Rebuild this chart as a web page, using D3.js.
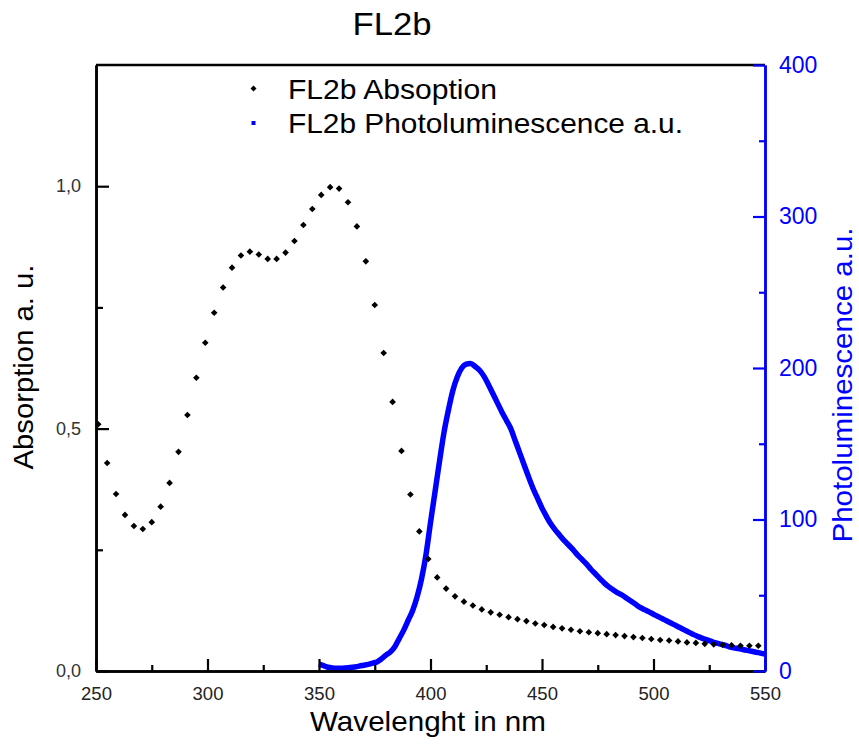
<!DOCTYPE html>
<html>
<head>
<meta charset="utf-8">
<script src="https://cdn.jsdelivr.net/npm/d3@7"></script>
<style>
  html, body { margin: 0; padding: 0; background: #fff; }
  svg { display: block; font-family: "Liberation Sans", Arial, sans-serif; }
</style>
</head>
<body>
<svg id="chart" width="859" height="747"></svg>
<script>
// ---------- data ----------
const absWavelength = d3.range(251, 548, 4); // 251..547 nm, every 4 nm
const absValues = [
  0.509, 0.429, 0.365, 0.322, 0.299, 0.293, 0.307, 0.339, 0.388, 0.452,
  0.528, 0.605, 0.677, 0.739, 0.791, 0.832, 0.857, 0.865, 0.859, 0.850,
  0.850, 0.863, 0.887, 0.920, 0.953, 0.982, 0.998, 0.995, 0.967, 0.917,
  0.845, 0.755, 0.656, 0.555, 0.454, 0.364, 0.288, 0.231, 0.193, 0.170,
  0.154, 0.143, 0.135, 0.127, 0.121, 0.116, 0.111, 0.107, 0.103, 0.098,
  0.095, 0.091, 0.088, 0.085, 0.082, 0.080, 0.078, 0.076, 0.074, 0.072,
  0.070, 0.068, 0.066, 0.064, 0.063, 0.061, 0.059, 0.058, 0.056, 0.055,
  0.054, 0.053, 0.052, 0.052, 0.052
];

const plWavelength = d3.range(350, 551, 2); // 350..550 nm, every 2 nm
const plValues = [
  4.5, 3.5, 2.5, 2.0, 1.8, 1.8, 2.0, 2.3, 2.7, 3.2,
  3.8, 4.4, 5.2, 6.0, 8.0, 10.5, 12.5, 16.0, 21.5, 27.0,
  33.5, 40.0, 49.0, 61.0, 77.0, 98.0, 118.0, 138.0, 157.0, 172.0,
  185.0, 194.0, 200.0, 202.5, 203.0, 201.0, 198.5, 194.5, 189.0, 183.0,
  177.0, 171.0, 165.5, 160.0, 152.0, 144.0, 136.0, 128.0, 120.5, 114.0,
  107.5, 102.0, 97.0, 93.0, 89.5, 86.0, 83.0, 80.0, 76.5, 73.5,
  70.5, 67.0, 64.0, 61.0, 58.0, 55.5, 53.5, 51.5, 50.0, 48.0,
  46.0, 44.0, 42.0, 40.5, 39.0, 37.5, 36.0, 34.5, 33.0, 31.5,
  30.0, 28.5, 27.0, 25.5, 24.0, 22.7, 21.5, 20.5, 19.5, 18.5,
  17.7, 17.0, 16.0, 15.3, 14.8, 14.2, 13.6, 13.0, 12.4, 11.8,
  11.2
];

const xMajorTicks = [250, 300, 350, 400, 450, 500, 550];
const xMinorTicks = [275, 325, 375, 425, 475, 525];
const yLeftMajorTicks = [0, 0.5, 1.0];
const yLeftMinorTicks = [0.25, 0.75];
const yLeftTickLabels = ["0,0", "0,5", "1,0"];
const yRightMajorTicks = [0, 100, 200, 300, 400];
const yRightMinorTicks = [50, 150, 250, 350];

const titleText = "FL2b";
const legendLabels = ["FL2b Absoption", "FL2b Photoluminescence a.u."];
const xTitle = "Wavelenght in nm";
const yLeftTitle = "Absorption a. u.";
const yRightTitle = "Photoluminescence a.u.";

// ---------- layout ----------
const BLUE = "#0000ff";
const L = 96, R = 765, T = 65, B = 671;
const svg = d3.select("#chart");

const x = d3.scaleLinear().domain([250, 550]).range([L, R]);
const yA = d3.scaleLinear().domain([0, 1.25]).range([B, T]);
const yP = d3.scaleLinear().domain([0, 400]).range([B, T]);

// ---------- data marks ----------
const plData = plWavelength.map((w, i) => ({ w, v: plValues[i] }));
const absData = absWavelength.map((w, i) => ({ w, v: absValues[i] }));

svg.append("path")
  .datum(plData)
  .attr("fill", "none")
  .attr("stroke", BLUE)
  .attr("stroke-width", 5.5)
  .attr("stroke-linejoin", "round")
  .attr("d", d3.line().x(d => x(d.w)).y(d => yP(d.v)).curve(d3.curveMonotoneX));

const diamond = d3.symbol().type(d3.symbolSquare).size(22);
svg.append("g").selectAll("path")
  .data(absData)
  .join("path")
  .attr("d", diamond)
  .attr("fill", "#000")
  .attr("transform", d => `translate(${x(d.w)},${yA(d.v)}) rotate(45)`);

// ---------- axes ----------
// top frame
svg.append("line").attr("x1", L).attr("x2", R).attr("y1", T).attr("y2", T)
  .attr("stroke", "#000").attr("stroke-width", 2.5);

function styleAxis(g, color, fontSize, textColor) {
  g.attr("font-size", fontSize).attr("font-family", "'Liberation Sans', Arial, sans-serif");
  g.select(".domain").attr("stroke", color).attr("stroke-width", 2.5);
  g.selectAll(".tick line").attr("stroke", color).attr("stroke-width", 2.2);
  g.selectAll(".tick text").attr("fill", textColor).attr("font-size", fontSize);
}

// bottom axis
const gxMinor = svg.append("g").attr("transform", `translate(0,${B})`)
  .call(d3.axisBottom(x).tickValues(xMinorTicks).tickSize(-6).tickSizeOuter(0).tickFormat(""));
styleAxis(gxMinor, "#000", 18, "#222");
const gx = svg.append("g").attr("transform", `translate(0,${B})`)
  .call(d3.axisBottom(x).tickValues(xMajorTicks).tickSize(-12).tickSizeOuter(0).tickPadding(16).tickFormat(d3.format("d")));
styleAxis(gx, "#000", 18.5, "#222");

// left axis
const gyMinor = svg.append("g").attr("transform", `translate(${L},0)`)
  .call(d3.axisLeft(yA).tickValues(yLeftMinorTicks).tickSize(-7).tickSizeOuter(0).tickFormat(""));
styleAxis(gyMinor, "#000", 17, "#333");
const gy = svg.append("g").attr("transform", `translate(${L},0)`)
  .call(d3.axisLeft(yA).tickValues(yLeftMajorTicks).tickSize(-13).tickSizeOuter(0).tickPadding(15)
    .tickFormat((d, i) => yLeftTickLabels[i]));
styleAxis(gy, "#000", 18, "#333");

// right axis
const gy2Minor = svg.append("g").attr("transform", `translate(${R},0)`)
  .call(d3.axisRight(yP).tickValues(yRightMinorTicks).tickSize(-6).tickSizeOuter(0).tickFormat(""));
styleAxis(gy2Minor, BLUE, 23, BLUE);
const gy2 = svg.append("g").attr("transform", `translate(${R},0)`)
  .call(d3.axisRight(yP).tickValues(yRightMajorTicks).tickSize(-12).tickSizeOuter(0).tickPadding(14).tickFormat(d3.format("d")));
styleAxis(gy2, BLUE, 23, BLUE);

// ---------- titles ----------
svg.append("text").text(titleText)
  .attr("x", 392).attr("y", 35).attr("text-anchor", "middle")
  .attr("font-size", 31).attr("fill", "#000")
  .attr("textLength", 79).attr("lengthAdjust", "spacingAndGlyphs");

svg.append("text").text(xTitle)
  .attr("x", 428).attr("y", 731).attr("text-anchor", "middle")
  .attr("font-size", 28.5).attr("fill", "#000")
  .attr("textLength", 236).attr("lengthAdjust", "spacingAndGlyphs");

svg.append("text").text(yLeftTitle)
  .attr("transform", "translate(33,367) rotate(-90)")
  .attr("text-anchor", "middle")
  .attr("font-size", 28).attr("fill", "#000")
  .attr("textLength", 205).attr("lengthAdjust", "spacingAndGlyphs");

svg.append("text").text(yRightTitle)
  .attr("transform", "translate(852,385) rotate(-90)")
  .attr("text-anchor", "middle")
  .attr("font-size", 28).attr("fill", BLUE)
  .attr("textLength", 315).attr("lengthAdjust", "spacingAndGlyphs");

// ---------- legend ----------
const legend = svg.append("g");
legend.append("path")
  .attr("d", d3.symbol().type(d3.symbolSquare).size(18)())
  .attr("fill", "#000")
  .attr("transform", "translate(253.5,88.5) rotate(45)");
legend.append("rect")
  .attr("x", 251.5).attr("y", 121).attr("width", 4).attr("height", 4)
  .attr("fill", BLUE);
legend.append("text").text(legendLabels[0])
  .attr("x", 288).attr("y", 98.5).attr("font-size", 28).attr("fill", "#000")
  .attr("textLength", 209).attr("lengthAdjust", "spacingAndGlyphs");
legend.append("text").text(legendLabels[1])
  .attr("x", 288).attr("y", 132.5).attr("font-size", 28).attr("fill", "#000")
  .attr("textLength", 395).attr("lengthAdjust", "spacingAndGlyphs");
</script>
</body>
</html>
